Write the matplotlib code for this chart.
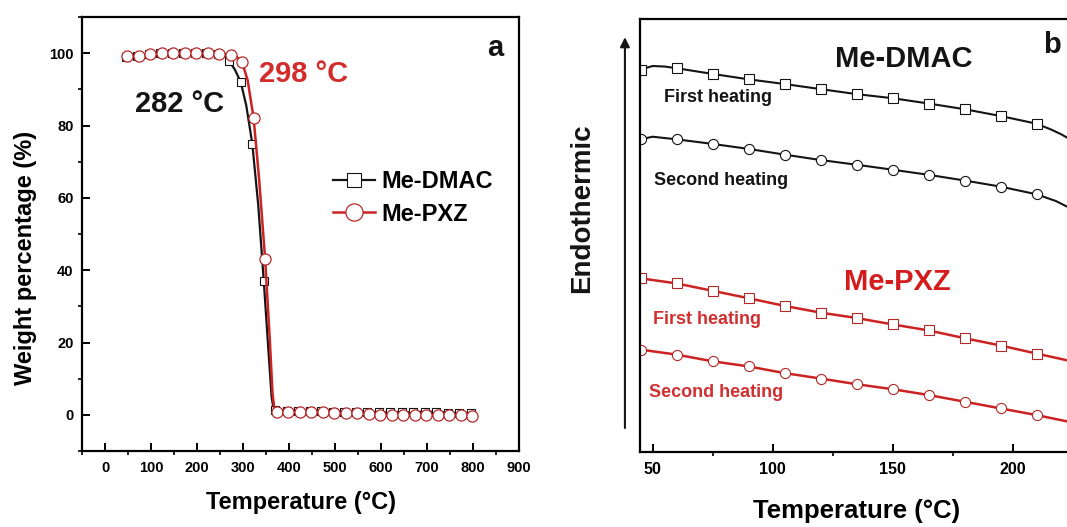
import matplotlib
matplotlib.use("Agg")
import matplotlib.pyplot as plt
from matplotlib.ticker import MultipleLocator

plt.rcParams['font.family'] = ['Liberation Sans', 'DejaVu Sans']
plt.rcParams['font.weight'] = 'bold'
plt.rcParams['axes.labelweight'] = 'bold'

BLACK = '#141414'
RED = '#cc2222'

# ---------- (a) TGA ----------
dmac_T = [45, 70, 95, 120, 145, 170, 195, 220, 245, 260, 270, 282, 295, 307, 320, 333,
          345, 355, 362, 366, 370, 395, 420, 445, 470, 495, 520, 545, 570, 595, 620, 645,
          670, 695, 720, 745, 770, 795]
dmac_W = [99.0, 99.3, 99.8, 100, 100, 100, 100, 100, 99.9, 99.3, 97.8, 95.5, 92.0, 85.5,
          75.0, 58.0, 37.0, 18.0, 5.0, 1.8, 1.3, 1.2, 1.2, 1.1, 1.0, 0.9, 0.8, 0.8, 0.7,
          0.7, 0.7, 0.7, 0.7, 0.9, 0.8, 0.6, 0.5, 0.4]
dmac_mark_T = [45, 70, 95, 120, 145, 170, 195, 220, 245, 270, 295, 320, 345, 370, 395,
               420, 445, 470, 495, 520, 545, 570, 595, 620, 645, 670, 695, 720, 745, 770, 795]

pxz_T = [48, 73, 98, 123, 148, 173, 198, 223, 248, 273, 288, 298, 310, 323, 335, 348,
         358, 364, 368, 373, 398, 423, 448, 473, 498, 523, 548, 573, 598, 623, 648, 673,
         698, 723, 748, 773, 798]
pxz_W = [99.1, 99.3, 99.9, 100, 100, 100, 100, 100, 99.9, 99.6, 98.8, 97.5, 92.5, 82.0,
         65.0, 43.0, 21.0, 6.0, 1.6, 0.9, 0.9, 0.9, 0.9, 0.7, 0.6, 0.5, 0.4, 0.2, 0.0,
         -0.1, 0.0, 0.0, 0.0, 0.0, 0.0, -0.1, -0.3]
pxz_mark_T = [48, 73, 98, 123, 148, 173, 198, 223, 248, 273, 298, 323, 348, 373, 398,
              423, 448, 473, 498, 523, 548, 573, 598, 623, 648, 673, 698, 723, 748, 773, 798]

# ---------- (b) DSC ----------
dsc_dmac1_T = [45, 50, 55, 60, 75, 90, 105, 120, 135, 150, 165, 180, 195, 210, 216, 220, 223, 226]
dsc_dmac1_H = [382.5, 386.0, 385.5, 383.8, 378.1, 372.7, 368.0, 362.9, 357.9, 353.8, 348.5,
               342.8, 336.0, 328.3, 322.5, 318.0, 314.0, 306.0]
dsc_dmac2_T = [45, 50, 60, 75, 90, 105, 120, 135, 150, 165, 180, 195, 210, 218, 223, 226]
dsc_dmac2_H = [312.7, 315.3, 312.7, 308.1, 303.1, 297.4, 292.0, 287.3, 282.3, 277.2, 271.5,
               265.4, 257.7, 251.0, 245.0, 241.0]
dsc_pxz1_T = [45, 60, 75, 90, 105, 120, 135, 150, 165, 180, 195, 210, 225]
dsc_pxz1_H = [173.7, 168.6, 161.2, 153.8, 146.1, 139.4, 134.0, 127.6, 121.6, 113.8, 106.5, 98.4, 90.5]
dsc_pxz2_T = [45, 60, 75, 90, 105, 120, 135, 150, 165, 180, 195, 210, 225]
dsc_pxz2_H = [102.4, 97.4, 90.7, 85.6, 78.9, 73.5, 67.8, 62.8, 57.0, 50.3, 43.6, 36.9, 29.5]
dsc_mark_T = [45, 60, 75, 90, 105, 120, 135, 150, 165, 180, 195, 210]


def marks(T, keep):
    return [i for i, t in enumerate(T) if t in keep]


def style_axis(ax, size):
    for s in ax.spines.values():
        s.set_linewidth(1.6)
    ax.tick_params(which='major', direction='in', length=5.5, width=1.4,
                   labelsize=size, pad=7)
    ax.tick_params(which='minor', direction='out', length=3, width=1.2)


fig = plt.figure(figsize=(10.67, 5.27), dpi=100)

# ===== panel a =====
ax1 = fig.add_axes([0.0769, 0.1442, 0.4096, 0.8235])
ax1.plot(dmac_T, dmac_W, '-', color=BLACK, lw=1.6, marker='s', ms=6.3,
         mfc='white', mec=BLACK, mew=0.8, markevery=marks(dmac_T, dmac_mark_T),
         label='Me-DMAC')
ax1.plot(pxz_T, pxz_W, '-', color=RED, lw=1.8, marker='o', ms=8,
         mfc='white', mec='#b52828', mew=0.9, markevery=marks(pxz_T, pxz_mark_T),
         label='Me-PXZ')
ax1.set_xlim(-50, 900)
ax1.set_ylim(-10, 110)
ax1.xaxis.set_major_locator(MultipleLocator(100))
ax1.xaxis.set_minor_locator(MultipleLocator(50))
ax1.yaxis.set_major_locator(MultipleLocator(20))
ax1.yaxis.set_minor_locator(MultipleLocator(10))
style_axis(ax1, 10.5)
ax1.tick_params(axis='y', pad=6)
ax1.set_xlabel('Temperature (°C)', fontsize=17)
ax1.set_ylabel('Weight percentage (%)', fontsize=17)
ax1.xaxis.set_label_coords(0.501, -0.092)
ax1.xaxis.label.set_va('top')
ax1.yaxis.set_label_coords(-0.103, 0.445)

ax1.text(0.224, 0.80, '282 °C', transform=ax1.transAxes, fontsize=21,
         color=BLACK, ha='center', va='center')
ax1.text(0.506, 0.869, '298 °C', transform=ax1.transAxes, fontsize=21,
         color='#d42c2c', ha='center', va='center')
ax1.text(0.945, 0.929, 'a', transform=ax1.transAxes, fontsize=21,
         color=BLACK, ha='center', va='center')

leg = ax1.legend(loc='upper left', bbox_to_anchor=(0.575, 0.648), frameon=False,
                 fontsize=17, handlelength=1.75, handletextpad=0.3,
                 labelspacing=0.42, borderpad=0, borderaxespad=0, markerscale=1.55)

# ===== panel b =====
ax2 = fig.add_axes([0.5998, 0.1423, 0.428, 0.8216])
ax2.plot(dsc_dmac1_T, dsc_dmac1_H, '-', color=BLACK, lw=1.5, marker='s', ms=6.8,
         mfc='white', mec=BLACK, mew=0.8, markevery=marks(dsc_dmac1_T, dsc_mark_T))
ax2.plot(dsc_dmac2_T, dsc_dmac2_H, '-', color=BLACK, lw=1.5, marker='o', ms=7.3,
         mfc='white', mec=BLACK, mew=0.8, markevery=marks(dsc_dmac2_T, dsc_mark_T))
ax2.plot(dsc_pxz1_T, dsc_pxz1_H, '-', color=RED, lw=1.8, marker='s', ms=6.8,
         mfc='white', mec='#b52828', mew=0.8, markevery=marks(dsc_pxz1_T, dsc_mark_T))
ax2.plot(dsc_pxz2_T, dsc_pxz2_H, '-', color=RED, lw=1.8, marker='o', ms=7.3,
         mfc='white', mec='#b52828', mew=0.8, markevery=marks(dsc_pxz2_T, dsc_mark_T))
ax2.set_xlim(44.75, 235)
ax2.set_ylim(0, 433)
ax2.xaxis.set_major_locator(MultipleLocator(50))
ax2.xaxis.set_minor_locator(MultipleLocator(25))
ax2.set_yticks([])
style_axis(ax2, 11.5)
ax2.set_xlabel('Temperature (°C)', fontsize=18.5)
ax2.xaxis.set_label_coords(0.475, -0.1085)
ax2.xaxis.label.set_va('top')

ax2.text(-0.127, 0.5635, 'Endothermic', transform=ax2.transAxes, fontsize=20,
         rotation=90, ha='center', va='center', color=BLACK)
ax2.annotate('', xy=(-0.033, 0.958), xytext=(-0.033, 0.0554),
             xycoords='axes fraction', textcoords='axes fraction',
             annotation_clip=False,
             arrowprops=dict(arrowstyle='-|>', lw=1.5, color=BLACK,
                             mutation_scale=14, shrinkA=0, shrinkB=0))

ax2.text(0.578, 0.9076, 'Me-DMAC', transform=ax2.transAxes, fontsize=21,
         color=BLACK, ha='center', va='center')
ax2.text(0.564, 0.3926, 'Me-PXZ', transform=ax2.transAxes, fontsize=21,
         color='#d41c1c', ha='center', va='center')
ax2.text(0.0526, 0.8187, 'First heating', transform=ax2.transAxes, fontsize=13,
         color=BLACK, ha='left', va='center')
ax2.text(0.0307, 0.626, 'Second heating', transform=ax2.transAxes, fontsize=13,
         color=BLACK, ha='left', va='center')
ax2.text(0.0285, 0.307, 'First heating', transform=ax2.transAxes, fontsize=13,
         color='#d03030', ha='left', va='center')
ax2.text(0.0197, 0.137, 'Second heating', transform=ax2.transAxes, fontsize=13,
         color='#d03030', ha='left', va='center')
ax2.text(0.902, 0.94, 'b', transform=ax2.transAxes, fontsize=21,
         color=BLACK, ha='center', va='center')

fig.savefig('out.png', dpi=100)
